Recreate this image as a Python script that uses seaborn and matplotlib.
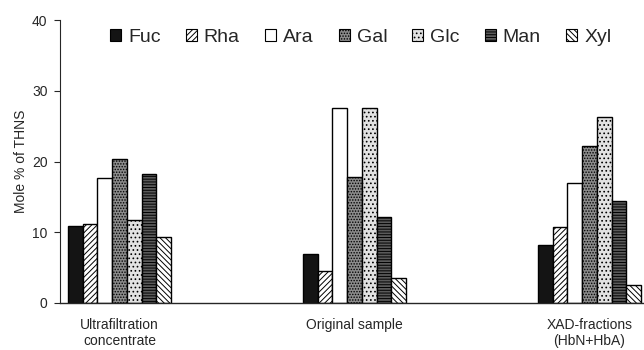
import matplotlib
matplotlib.use("Agg")
import matplotlib.pyplot as plt
import matplotlib.patches as mpatches
import seaborn as sns
import pandas as pd

categories = ["Ultrafiltration\nconcentrate", "Original sample", "XAD-fractions\n(HbN+HbA)"]
sugars = ["Fuc", "Rha", "Ara", "Gal", "Glc", "Man", "Xyl"]
fuc = [10.9, 6.9, 8.2]
rha = [11.1, 4.5, 10.7]
ara = [17.6, 27.6, 17.0]
gal = [20.4, 17.8, 22.2]
glc = [11.8, 27.6, 26.3]
man = [18.3, 12.2, 14.4]
xyl = [9.3, 3.5, 2.6]
yticks = [0, 10, 20, 30, 40]

series = [fuc, rha, ara, gal, glc, man, xyl]
rows = []
for s, vals in zip(sugars, series):
    for c, v in zip(categories, vals):
        rows.append({"cat": c, "sugar": s, "val": v})
df = pd.DataFrame(rows)

sns.set_style("white")
plt.rcParams["font.family"] = ["Liberation Sans", "DejaVu Sans"]
plt.rcParams["hatch.linewidth"] = 0.7

faces = ["#141414", "white", "white", "#8c8c8c", "#e2e2e2", "#5a5a5a", "white"]
hatches = ["", "//////", "", "......", "....", "------", "\\\\\\\\\\\\"]

fig = plt.figure(figsize=(6.44, 3.5), dpi=100)
W, H = 644, 350
ax = fig.add_axes([60 / W, 47 / H, (644 - 60) / W, (303 - 20) / H])

sns.barplot(data=df, x="cat", y="val", hue="sugar", order=categories, hue_order=sugars,
            width=0.44, ax=ax, legend=False, palette=faces, saturation=1)

for cont, fc, h in zip(ax.containers, faces, hatches):
    for p in cont.patches:
        p.set_facecolor(fc)
        p.set_edgecolor("black")
        p.set_linewidth(1.0)
        p.set_hatch(h)

ax.set_xlim(-0.253, 2.232)
ax.set_ylim(0, 40)
ax.set_yticks(yticks)
ax.tick_params(axis="y", which="both", left=True, length=4, width=0.8, labelsize=10, pad=5)
ax.tick_params(axis="x", length=0, labelsize=10, pad=11)
ax.set_xlabel("")
ax.set_ylabel("Mole % of THNS", fontsize=10, labelpad=3)
sns.despine(ax=ax, top=True, right=True)
ax.spines["left"].set_linewidth(0.8)
ax.spines["bottom"].set_linewidth(1.0)

handles = [mpatches.Patch(facecolor=fc, edgecolor="black", hatch=h, linewidth=0.8)
           for fc, h in zip(faces, hatches)]
fig.legend(handles, sugars, loc="center left", bbox_to_anchor=(110 / W, 1 - 37 / H), ncol=7,
           frameon=False, fontsize=14, handlelength=0.57, handleheight=0.57,
           handletextpad=0.35, columnspacing=1.3, borderaxespad=0, borderpad=0)

fig.savefig("out.png", dpi=100)
